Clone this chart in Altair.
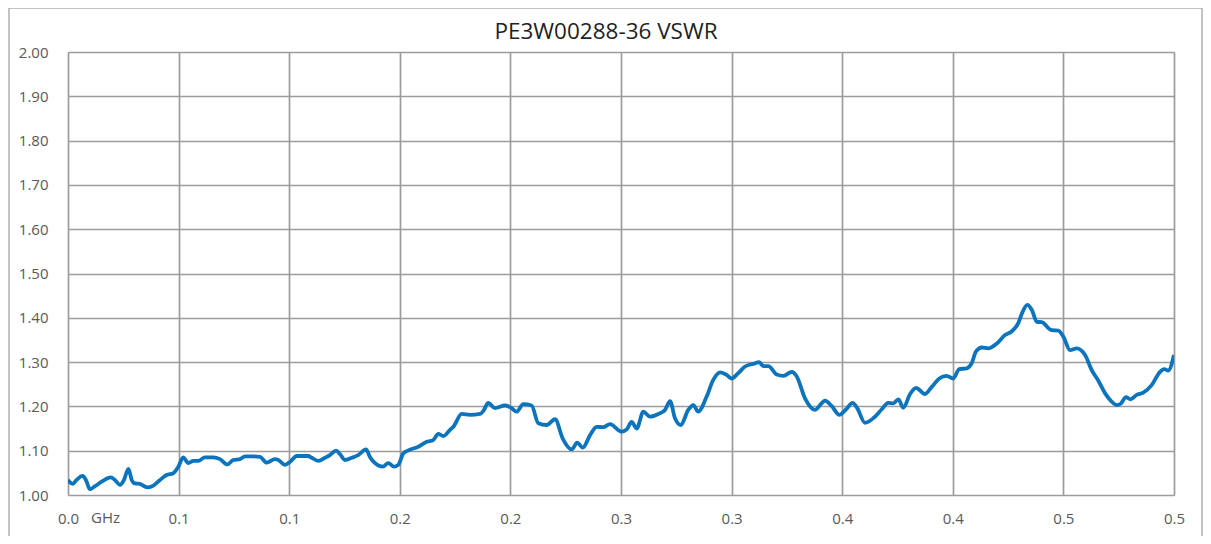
import altair as alt
import pandas as pd

title_text = "PE3W00288-36 VSWR"
unit_text = "GHz"

freq_ghz = [
    0.0000, 0.0021, 0.0039, 0.0066, 0.0081, 0.0099, 0.0122, 0.0152, 0.0193, 0.0212,
    0.0235, 0.0253, 0.0273, 0.0288, 0.0303, 0.0325, 0.0358, 0.0378, 0.0416, 0.0446,
    0.0476, 0.0499, 0.0521, 0.0544, 0.0566, 0.0589, 0.0619, 0.0657, 0.0687, 0.0720,
    0.0747, 0.0778, 0.0800, 0.0838, 0.0868, 0.0898, 0.0936, 0.0951, 0.0981, 0.1004,
    0.1034, 0.1086, 0.1102, 0.1132, 0.1162, 0.1184, 0.1212, 0.1230, 0.1252, 0.1283,
    0.1312, 0.1347, 0.1365, 0.1388, 0.1423, 0.1448, 0.1474, 0.1493, 0.1516, 0.1546,
    0.1584, 0.1622, 0.1651, 0.1674, 0.1697, 0.1727, 0.1742, 0.1780, 0.1817, 0.1863,
    0.1878, 0.1900, 0.1930, 0.1976, 0.2006, 0.2028, 0.2058, 0.2096, 0.2126, 0.2164,
    0.2202, 0.2236, 0.2277, 0.2302, 0.2327, 0.2360, 0.2390, 0.2420, 0.2450, 0.2503,
    0.2526, 0.2548, 0.2571, 0.2601, 0.2631, 0.2669, 0.2699, 0.2722, 0.2744, 0.2770,
    0.2804, 0.2827, 0.2849, 0.2887, 0.2917, 0.2948, 0.2978, 0.3000, 0.3030, 0.3061,
    0.3098, 0.3125, 0.3143, 0.3166, 0.3204, 0.3234, 0.3272, 0.3294, 0.3332, 0.3377,
    0.3407, 0.3422, 0.3452, 0.3487, 0.3517, 0.3547, 0.3568, 0.3603, 0.3640, 0.3678,
    0.3708, 0.3731, 0.3754, 0.3776, 0.3807, 0.3834, 0.3874, 0.3905, 0.3939, 0.3972,
    0.4002, 0.4029, 0.4063, 0.4085, 0.4105, 0.4131, 0.4161, 0.4199, 0.4236, 0.4266,
    0.4296, 0.4316, 0.4337, 0.4357, 0.4380, 0.4402, 0.4447, 0.4477, 0.4500, 0.4530,
    0.4560, 0.4598, 0.4628, 0.4658, 0.4688, 0.4718, 0.4741, 0.4759, 0.4783, 0.4804,
    0.4831, 0.4861, 0.4899, 0.4937, 0.4956, 0.4974, 0.5000,
]

vswr = [
    1.034, 1.025, 1.034, 1.043, 1.034, 1.013, 1.020, 1.030, 1.040, 1.034,
    1.023, 1.034, 1.059, 1.034, 1.026, 1.025, 1.017, 1.019, 1.034, 1.045,
    1.049, 1.064, 1.085, 1.072, 1.077, 1.077, 1.085, 1.085, 1.081, 1.069,
    1.079, 1.081, 1.087, 1.087, 1.086, 1.073, 1.081, 1.079, 1.068, 1.075,
    1.088, 1.088, 1.084, 1.077, 1.084, 1.090, 1.100, 1.092, 1.079, 1.084,
    1.090, 1.103, 1.086, 1.072, 1.064, 1.072, 1.064, 1.068, 1.094, 1.102,
    1.109, 1.120, 1.124, 1.138, 1.133, 1.147, 1.154, 1.183, 1.181, 1.183,
    1.190, 1.208, 1.196, 1.202, 1.196, 1.188, 1.205, 1.202, 1.162, 1.158,
    1.171, 1.128, 1.103, 1.118, 1.107, 1.135, 1.154, 1.153, 1.160, 1.143,
    1.148, 1.165, 1.150, 1.188, 1.177, 1.183, 1.192, 1.212, 1.173, 1.158,
    1.192, 1.203, 1.188, 1.222, 1.260, 1.277, 1.271, 1.263, 1.275, 1.290,
    1.296, 1.300, 1.291, 1.291, 1.272, 1.269, 1.278, 1.268, 1.218, 1.192,
    1.207, 1.213, 1.201, 1.181, 1.193, 1.208, 1.196, 1.163, 1.173, 1.193,
    1.208, 1.207, 1.216, 1.197, 1.228, 1.242, 1.228, 1.244, 1.263, 1.269,
    1.263, 1.284, 1.286, 1.297, 1.324, 1.333, 1.331, 1.342, 1.361, 1.369,
    1.388, 1.414, 1.429, 1.418, 1.391, 1.390, 1.372, 1.371, 1.357, 1.327,
    1.331, 1.316, 1.282, 1.258, 1.230, 1.211, 1.203, 1.206, 1.221, 1.216,
    1.226, 1.231, 1.248, 1.278, 1.284, 1.281, 1.316,
]

x_ticks = [0.0, 0.05, 0.1, 0.15, 0.2, 0.25, 0.3, 0.35, 0.4, 0.45, 0.5]
x_tick_labels = ["0.0", "0.1", "0.1", "0.2", "0.2", "0.3", "0.3", "0.4", "0.4", "0.5", "0.5"]
y_ticks = [1.0, 1.1, 1.2, 1.3, 1.4, 1.5, 1.6, 1.7, 1.8, 1.9, 2.0]

df = pd.DataFrame({"f": freq_ghz, "v": vswr})

W, H = 1106, 443
FONT = "Open Sans"
GRID = "#9c9c9c"
LABEL = "#595959"

label_expr = "[" + ",".join("'%s'" % s for s in x_tick_labels) + "][round(datum.value*20)]"

x_scale = alt.Scale(domain=[0, 0.5], nice=False, zero=False)
y_scale = alt.Scale(domain=[1.0, 2.0], nice=False, zero=False)

line = alt.Chart(df).mark_line(
    color="#0b74bd", strokeWidth=3.8, interpolate="monotone", clip=True
).encode(
    x=alt.X("f:Q", scale=x_scale, axis=alt.Axis(
        values=x_ticks, labelExpr=label_expr, title=None, grid=True, ticks=False,
        domain=False, labelPadding=16, labelFontSize=15, labelColor=LABEL, labelFont=FONT,
        gridColor=GRID, gridWidth=1.7, labelFlush=False)),
    y=alt.Y("v:Q", scale=y_scale, axis=alt.Axis(
        values=y_ticks, format=".2f", title=None, grid=True, ticks=False,
        domain=False, labelPadding=20, labelFontSize=15, labelColor=LABEL, labelFont=FONT,
        gridColor=GRID, gridWidth=1.7, labelFlush=False)),
)

unit = alt.Chart(pd.DataFrame({"t": [unit_text]})).mark_text(
    align="left", baseline="top", font=FONT, fontSize=15, color=LABEL, dx=23
).encode(x=alt.value(0), y=alt.value(H + 16), text="t:N")

title = alt.Chart(pd.DataFrame({"t": [title_text]})).mark_text(
    align="center", baseline="middle", font=FONT, fontSize=22.5, color="#1f1f1f"
).encode(x=alt.value(538), y=alt.value(-20), text="t:N")

border = alt.Chart(pd.DataFrame({"k": [0]})).mark_rect(
    fill=None, stroke="#b0b0b0", strokeWidth=1.5
).encode(x=alt.value(-59), x2=alt.value(1134), y=alt.value(-44), y2=alt.value(520))

chart = alt.layer(border, line, unit, title).properties(
    width=W, height=H,
    autosize=alt.AutoSizeParams(type="none"),
    padding={"left": 60, "top": 44, "right": 29, "bottom": 41},
).configure_view(stroke=GRID, strokeWidth=1.7).configure(background="white")

chart.save("out.html", embed_options={"renderer": "svg", "actions": False})
